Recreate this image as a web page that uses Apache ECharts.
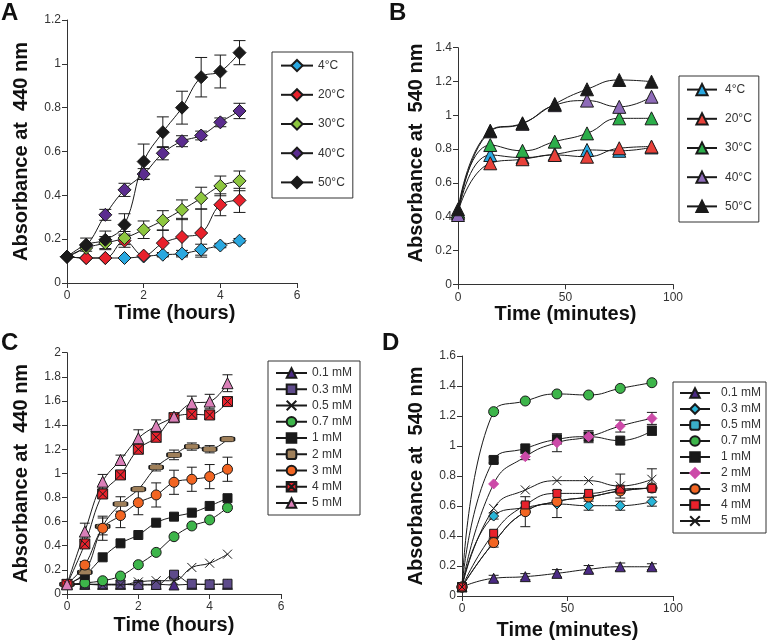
<!DOCTYPE html>
<html>
<head>
<meta charset="utf-8">
<script src="https://cdn.jsdelivr.net/npm/echarts@6/dist/echarts.min.js"></script>
<style>html,body{margin:0;padding:0;background:#fff}#c{width:769px;height:642px}</style>
</head>
<body>
<div id="c"></div>
<script>
// ---------- DATA ----------
const hoursA = [0, 0.5, 1, 1.5, 2, 2.5, 3, 3.5, 4, 4.5];
const tempLabels = ['4°C', '20°C', '30°C', '40°C', '50°C'];
const a4  = [0.12, 0.114, 0.114, 0.114, 0.121, 0.129, 0.134, 0.152, 0.171, 0.193];
const a20 = [0.12, 0.114, 0.114, 0.193, 0.125, 0.182, 0.21, 0.228, 0.357, 0.377];
const a30 = [0.12, 0.16, 0.182, 0.205, 0.243, 0.285, 0.334, 0.387, 0.443, 0.466];
const a40 = [0.12, 0.17, 0.311, 0.425, 0.497, 0.592, 0.647, 0.673, 0.733, 0.785];
const a50 = [0.12, 0.175, 0.197, 0.266, 0.554, 0.688, 0.8, 0.939, 0.965, 1.051];
const a4Err  = [0, 0, 0, 0, 0, 0.01, 0.015, 0.025, 0.01, 0.01];
const a20Err = [0, 0, 0, 0.03, 0, 0.06, 0.085, 0.11, 0.05, 0.055];
const a30Err = [0, 0, 0.03, 0.03, 0.04, 0.045, 0.045, 0.05, 0.045, 0.045];
const a40Err = [0, 0, 0.025, 0.03, 0.025, 0.03, 0.025, 0.02, 0.02, 0.035];
const a50Err = [0, 0.03, 0.04, 0.05, 0.08, 0.07, 0.075, 0.09, 0.075, 0.055];

const minutesB = [0, 15, 30, 45, 60, 75, 90];
const b4  = [0.42, 0.765, 0.75, 0.77, 0.795, 0.79, 0.81];
const b20 = [0.43, 0.716, 0.74, 0.765, 0.755, 0.805, 0.815];
const b30 = [0.43, 0.824, 0.79, 0.844, 0.893, 0.982, 0.982];
const b40 = [0.41, 0.905, 0.95, 1.06, 1.087, 1.05, 1.11];
const b50 = [0.444, 0.909, 0.953, 1.067, 1.154, 1.209, 1.199];

const hoursC = [0, 0.5, 1, 1.5, 2, 2.5, 3, 3.5, 4, 4.5];
const concLabels = ['0.1 mM', '0.3 mM', '0.5 mM', '0.7 mM', '1 mM', '2 mM', '3 mM', '4 mM', '5 mM'];
const c01 = [0.08, 0.08, 0.08, 0.08, 0.08, 0.08, 0.075, 0.08, 0.08, 0.08];
const c03 = [0.08, 0.08, 0.08, 0.08, 0.075, 0.075, 0.16, 0.085, 0.08, 0.085];
const c05 = [0.08, 0.08, 0.075, 0.075, 0.1, 0.11, 0.11, 0.22, 0.255, 0.33];
const c07 = [0.08, 0.092, 0.11, 0.149, 0.243, 0.345, 0.475, 0.564, 0.614, 0.716];
const c1  = [0.08, 0.157, 0.304, 0.42, 0.489, 0.591, 0.641, 0.674, 0.73, 0.794];
const c2  = [0.08, 0.18, 0.56, 0.746, 0.868, 1.05, 1.153, 1.222, 1.2, 1.283];
const c3  = [0.08, 0.24, 0.545, 0.65, 0.757, 0.821, 0.926, 0.951, 0.973, 1.034];
const c4  = [0.08, 0.415, 0.829, 0.987, 1.2, 1.299, 1.461, 1.489, 1.484, 1.595];
const c5  = [0.08, 0.517, 0.931, 1.111, 1.291, 1.393, 1.47, 1.58, 1.595, 1.747];
const c2Err = [0, 0.02, 0.07, 0.06, 0.02, 0.03, 0.04, 0.03, 0.03, 0.02];
const c3Err = [0, 0.03, 0.1, 0.1, 0.1, 0.1, 0.1, 0.1, 0.1, 0.1];
const c4Err = [0, 0.02, 0.02, 0.02, 0.03, 0.02, 0.02, 0.03, 0.03, 0.02];
const c5Err = [0, 0.07, 0.06, 0.04, 0.07, 0.05, 0.03, 0.06, 0.06, 0.07];

const minutesD = [0, 15, 30, 45, 60, 75, 90];
const d01 = [0.06, 0.118, 0.129, 0.151, 0.178, 0.195, 0.195];
const d03 = [0.06, 0.533, 0.59, 0.613, 0.602, 0.602, 0.629];
const d05 = [0.06, 0.356, 0.562, 0.63, 0.66, 0.7, 0.72];
const d07 = [0.06, 1.229, 1.3, 1.347, 1.34, 1.384, 1.422];
const d1  = [0.06, 0.907, 0.984, 1.044, 1.062, 1.036, 1.102];
const d2  = [0.06, 0.747, 0.929, 1.022, 1.062, 1.133, 1.184];
const d3  = [0.06, 0.356, 0.562, 0.63, 0.66, 0.7, 0.72];
const d4  = [0.06, 0.418, 0.607, 0.684, 0.684, 0.713, 0.718];
const d5  = [0.06, 0.584, 0.707, 0.769, 0.769, 0.733, 0.778];
const d01Err = [0, 0.02, 0.02, 0.025, 0.025, 0.025, 0.02];
const d03Err = [0, 0.02, 0.03, 0.09, 0.03, 0.03, 0.03];
const d1Err  = [0, 0.02, 0, 0.03, 0.03, 0, 0.03];
const d2Err  = [0, 0, 0.02, 0.06, 0.04, 0.04, 0.04];
const d3Err  = [0, 0.03, 0.1, 0, 0, 0, 0];
const d5Err  = [0, 0, 0, 0, 0, 0.08, 0.07];

// ---------- HELPERS ----------
const FONT = '"Liberation Sans", Arial, Helvetica, sans-serif';
const ZW = '\u200b';
const CROSS = 'path://M0,0L10,10M10,0L0,10';
const BOXCROSS = 'path://M0,0H10V10H0ZM0,0L10,10M10,0L0,10';

function line(name, xs, ys, g, sym, size, color, z, extra) {
  const s = {
    type: 'line', name: name, xAxisIndex: g, yAxisIndex: g,
    data: xs.map((x, i) => [x, ys[i]]),
    smooth: 0.4, symbol: sym, symbolSize: size, showAllSymbol: true,
    itemStyle: { color: color, borderColor: '#1a1a1a', borderWidth: 1, opacity: 1 },
    lineStyle: { color: '#1a1a1a', width: 1 },
    z: z, emphasis: { disabled: true }, silent: true
  };
  if (extra) Object.assign(s, extra);
  return s;
}
function err(xs, ys, es, g, cap) {
  return {
    type: 'custom', xAxisIndex: g, yAxisIndex: g, z: 1, silent: true,
    data: xs.map((x, i) => [x, ys[i], es[i]]).filter(d => d[2] > 0),
    renderItem: function (params, api) {
      const x = api.value(0), y = api.value(1), e = api.value(2);
      const t = api.coord([x, y + e]), b = api.coord([x, y - e]);
      const st = { stroke: '#1a1a1a', lineWidth: 1 };
      return { type: 'group', children: [
        { type: 'line', shape: { x1: t[0], y1: t[1], x2: b[0], y2: b[1] }, style: st },
        { type: 'line', shape: { x1: t[0] - cap, y1: t[1], x2: t[0] + cap, y2: t[1] }, style: st },
        { type: 'line', shape: { x1: b[0] - cap, y1: b[1], x2: b[0] + cap, y2: b[1] }, style: st }
      ]};
    }
  };
}
function xAx(g, max, interval, name, gap, pad) {
  return {
    gridIndex: g, type: 'value', min: 0, max: max, interval: interval,
    name: name, nameLocation: 'middle', nameGap: gap,
    nameTextStyle: { fontSize: 20, fontWeight: 'bold', color: '#111', fontFamily: FONT, padding: pad || 0 },
    axisLine: { lineStyle: { color: '#333', width: 1 } },
    axisTick: { length: 5, lineStyle: { color: '#333' } },
    axisLabel: { color: '#333', fontSize: 12, fontFamily: FONT, margin: 7 },
    splitLine: { show: false }
  };
}
function yAx(g, max, name, gap, pad) {
  return {
    gridIndex: g, type: 'value', min: 0, max: max, interval: 0.2,
    name: name, nameLocation: 'middle', nameGap: gap,
    nameTextStyle: { fontSize: 20, fontWeight: 'bold', color: '#111', fontFamily: FONT, padding: pad || 0 },
    axisLine: { show: true, lineStyle: { color: '#333', width: 1 } },
    axisTick: { show: true, length: 5, lineStyle: { color: '#333' } },
    axisLabel: { color: '#333', fontSize: 12, fontFamily: FONT, margin: 6 },
    splitLine: { show: false }
  };
}

// ---------- SERIES ----------
const series = [];
// Panel A (grid 0)
series.push(err(hoursA, a4, a4Err, 0, 6), err(hoursA, a20, a20Err, 0, 6), err(hoursA, a30, a30Err, 0, 6),
            err(hoursA, a40, a40Err, 0, 6), err(hoursA, a50, a50Err, 0, 6));
const aCols = ['#2aa8e0', '#e8212b', '#8dc63f', '#5b2c8f', '#1a1a1a'];
[a4, a20, a30, a40, a50].forEach((ys, i) =>
  series.push(line(tempLabels[i], hoursA, ys, 0, 'diamond', 13, aCols[i], 2 + i)));
// Panel B (grid 1)
const bCols = ['#2aa8e0', '#e8413a', '#2bae4a', '#8e6bb8', '#1a1a1a'];
[b4, b20, b30, b40, b50].forEach((ys, i) =>
  series.push(line(tempLabels[i] + ZW, minutesB, ys, 1, 'triangle', 13, bCols[i], 2 + i, { smooth: 0.5 })));
// Panel C (grid 2)
series.push(err(hoursC, c2, c2Err, 2, 5), err(hoursC, c3, c3Err, 2, 5), err(hoursC, c4, c4Err, 2, 5), err(hoursC, c5, c5Err, 2, 5));
const cSpec = [
  ['triangle', 10, '#4b2a84'], ['rect', 9, '#5e4b8b'], [CROSS, 9, '#ffffff'], ['circle', 10, '#3db54a'],
  ['rect', 9, '#1a1a1a'], ['roundRect', [14, 5], '#a0805a'], ['circle', 10, '#f26522'],
  [BOXCROSS, 10, '#e8212b'], ['triangle', 11, '#da7fb8']
];
[c01, c03, c05, c07, c1, c2, c3, c4, c5].forEach((ys, i) =>
  series.push(line(concLabels[i], hoursC, ys, 2, cSpec[i][0], cSpec[i][1], cSpec[i][2], 2 + i)));
// Panel D (grid 3)
series.push(err(minutesD, d01, d01Err, 3, 5), err(minutesD, d03, d03Err, 3, 5), err(minutesD, d1, d1Err, 3, 5),
            err(minutesD, d2, d2Err, 3, 5), err(minutesD, d3, d3Err, 3, 5), err(minutesD, d5, d5Err, 3, 5));
const dSpec = [
  ['triangle', 10, '#4b2a84'], ['diamond', 10, '#29b5d8'], ['roundRect', [9, 3], '#3aafc8'], ['circle', 10, '#3db54a'],
  ['rect', 9, '#1a1a1a'], ['diamond', 10, '#cc4aa8'], ['circle', 10, '#f26522'],
  ['rect', 8, '#e8212b'], [CROSS, 9, '#ffffff']
];
[d01, d03, d05, d07, d1, d2, d3, d4, d5].forEach((ys, i) => {
  const s = line(concLabels[i] + ZW, minutesD, ys, 3, dSpec[i][0], dSpec[i][1], dSpec[i][2], i === 2 ? 1.5 : 2 + i, { smooth: 0.5 });
  if (i === 5) s.itemStyle.borderColor = '#cc4aa8';
  series.push(s);
});

const legendBase = {
  orient: 'vertical', selectedMode: false, borderColor: '#333', borderWidth: 1, backgroundColor: '#fff',
  formatter: n => n.replace(ZW, ''),
  textStyle: { fontSize: 12, color: '#333', fontFamily: FONT }
};

const option = {
  animation: false,
  backgroundColor: '#ffffff',
  grid: [
    { left: 67, top: 20, width: 230, height: 263 },
    { left: 458, top: 47.7, width: 215, height: 236.6 },
    { left: 67, top: 352.7, width: 214, height: 241.3 },
    { left: 462, top: 356, width: 211, height: 240 }
  ],
  xAxis: [
    xAx(0, 6, 2, 'Time (hours)', 20, [0, 14, 0, 0]),
    xAx(1, 100, 50, 'Time (minutes)', 15),
    xAx(2, 6, 2, 'Time (hours)', 21),
    xAx(3, 100, 50, 'Time (minutes)', 24)
  ],
  yAxis: [
    yAx(0, 1.2, 'Absorbance at  440 nm', 36),
    yAx(1, 1.4, 'Absorbance at  540 nm', 32, [0, 0, 0, 26]),
    yAx(2, 2, 'Absorbance at  440 nm', 36),
    yAx(3, 1.6, 'Absorbance at  540 nm', 36)
  ],
  legend: [
    Object.assign({}, legendBase, { left: 272, top: 52, data: tempLabels, itemWidth: 32, itemHeight: 14, itemGap: 16, padding: [7, 8, 9, 8] }),
    Object.assign({}, legendBase, { left: 679, top: 76, data: tempLabels.map(n => n + ZW), itemWidth: 30, itemHeight: 14, itemGap: 16, padding: [7, 7, 9, 7],
      textStyle: { fontSize: 12, color: '#333', fontFamily: FONT, padding: [0, 0, 0, 3] } }),
    Object.assign({}, legendBase, { left: 268, top: 361, data: concLabels, itemWidth: 31, itemHeight: 12, itemGap: 4.25, padding: [6, 8, 6, 7],
      textStyle: { fontSize: 12, color: '#333', fontFamily: FONT, lineHeight: 12 } }),
    Object.assign({}, legendBase, { left: 673, top: 382, data: concLabels.map(n => n + ZW), itemWidth: 30, itemHeight: 12, itemGap: 4, padding: [5, 5, 6, 6],
      textStyle: { fontSize: 12, color: '#333', fontFamily: FONT, lineHeight: 12, padding: [0, 0, 0, 6] } })
  ],
  graphic: [
    { type: 'text', left: 1, top: 1, style: { text: 'A', font: 'bold 24px ' + FONT, fill: '#111' } },
    { type: 'text', left: 389, top: 1, style: { text: 'B', font: 'bold 24px ' + FONT, fill: '#111' } },
    { type: 'text', left: 1, top: 331, style: { text: 'C', font: 'bold 24px ' + FONT, fill: '#111' } },
    { type: 'text', left: 382, top: 331, style: { text: 'D', font: 'bold 24px ' + FONT, fill: '#111' } }
  ],
  series: series
};

const chart = echarts.init(document.getElementById('c'), null, { renderer: 'canvas' });
chart.setOption(option);
</script>
</body>
</html>
